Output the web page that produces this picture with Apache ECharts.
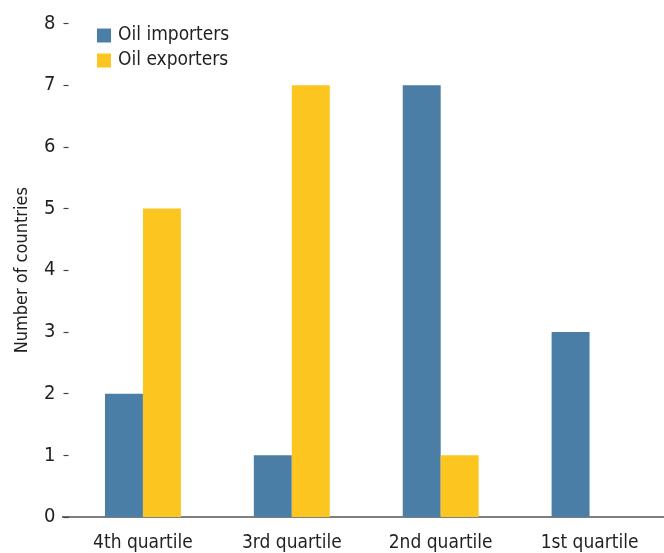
<!DOCTYPE html>
<html><head><meta charset="utf-8">
<script src="https://cdn.jsdelivr.net/npm/echarts@6/dist/echarts.min.js"></script>
<style>html,body{margin:0;padding:0;background:#fff}#c{width:664px;height:553px}</style>
</head><body><div id="c"></div>
<script>
const categories = ['4th quartile', '3rd quartile', '2nd quartile', '1st quartile'];
const oilImporters = [2, 1, 7, 3];
const oilExporters = [5, 7, 1, 0];
const seriesNames = ['Oil importers', 'Oil exporters'];
const yTicks = [0, 1, 2, 3, 4, 5, 6, 7, 8];

const FONT = '"DejaVu Sans Condensed", "Liberation Sans Narrow", sans-serif';
const chart = echarts.init(document.getElementById('c'), null, {renderer: 'canvas'});
chart.setOption({
  animation: false,
  textStyle: {fontFamily: FONT},
  grid: {left: 68.5, right: 0, top: 23.5, bottom: 36, containLabel: false},
  legend: {
    orient: 'vertical', left: 97, top: 26, padding: 0, itemWidth: 14, itemHeight: 14, itemGap: 6,
    icon: 'rect', textStyle: {fontFamily: FONT, fontSize: 19, color: '#231f20', padding: [0, 0, 0, 2]},
    data: seriesNames
  },
  xAxis: {
    type: 'category', data: categories,
    axisLine: {lineStyle: {color: '#555', width: 1.6}},
    axisTick: {inside: true, length: 5, lineStyle: {color: '#444', width: 1.5}},
    axisLabel: {fontFamily: FONT, fontSize: 19, color: '#231f20', margin: 17}
  },
  yAxis: {
    type: 'value', min: yTicks[0], max: yTicks[yTicks.length - 1], interval: 1,
    name: 'Number of countries', nameLocation: 'middle', nameGap: 37, nameRotate: 90,
    nameTextStyle: {fontFamily: FONT, fontSize: 18, color: '#231f20'},
    axisLine: {show: false},
    axisTick: {show: true, length: 5, lineStyle: {color: '#444', width: 1.2}},
    splitLine: {show: false},
    axisLabel: {fontFamily: FONT, fontSize: 20, color: '#231f20', margin: 13}
  },
  graphic: [{type: 'line', shape: {x1: 62, y1: 517, x2: 69, y2: 517}, style: {stroke: '#555', lineWidth: 1.6}}],
  series: [
    {name: seriesNames[0], type: 'bar', data: oilImporters, itemStyle: {color: '#4a7ea6'}, barGap: '0%', barCategoryGap: '49%'},
    {name: seriesNames[1], type: 'bar', data: oilExporters, itemStyle: {color: '#fdc520'}}
  ]
});
</script></body></html>
